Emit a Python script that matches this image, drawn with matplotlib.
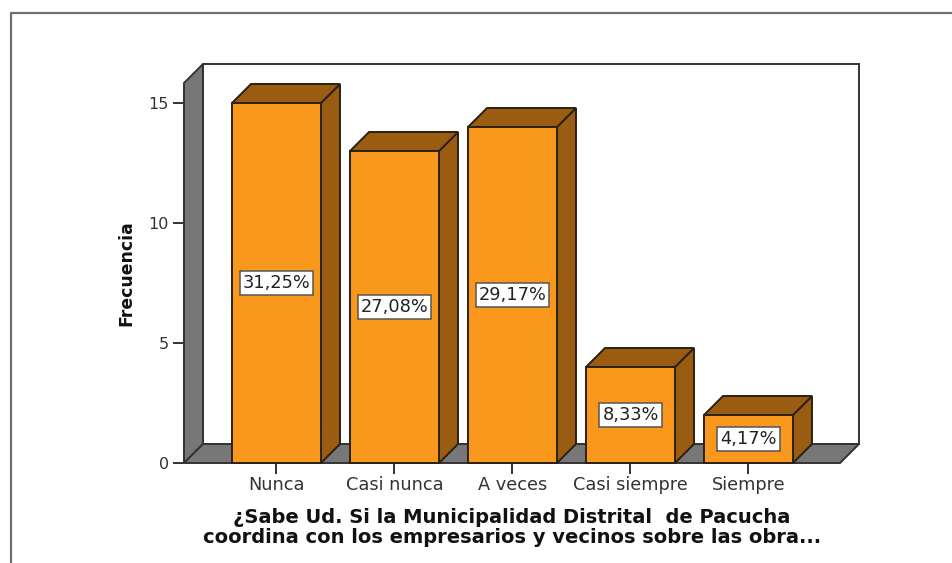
import matplotlib
matplotlib.use("Agg")
import matplotlib.pyplot as plt
from matplotlib.lines import Line2D
from matplotlib.patches import Polygon

plt.rcParams["font.family"] = ["DejaVu Sans"]

# data
categories = ["Nunca", "Casi nunca", "A veces", "Casi siempre", "Siempre"]
counts = [15, 13, 14, 4, 2]
percent_labels = ["31,25%", "27,08%", "29,17%", "8,33%", "4,17%"]
y_ticks = [0, 5, 10, 15]
x_title = "¿Sabe Ud. Si la Municipalidad Distrital  de Pacucha\ncoordina con los empresarios y vecinos sobre las obra..."
y_title = "Frecuencia"

W, H = 953, 563
fig = plt.figure(figsize=(W / 100, H / 100), dpi=100, facecolor="white")

# axes box in pixels, front plane of the 3d chart
left, right, top, bottom = 184, 840, 83, 463
ax = fig.add_axes([left / W, 1 - bottom / H, (right - left) / W, (bottom - top) / H])

px_x = 118  # pixels per category
px_y = 24  # pixels per count
ax.set_xlim(-92.5 / px_x, (right - left - 92.5) / px_x)
ax.set_ylim(0, (bottom - top) / px_y)
x0, x1 = ax.get_xlim()
y0, y1 = ax.get_ylim()

dx = 19 / px_x
dy = 19 / px_y
half = 44.5 / px_x

GREY = "#777777"
ORANGE = "#FA981E"
BROWN = "#995C10"
EDGE = "#2B2113"
LINE = "#333333"


def poly(pts, color, z, edge=LINE):
    ax.add_patch(Polygon(pts, closed=True, facecolor=color, edgecolor=edge,
                         linewidth=1.4, clip_on=False, zorder=z, joinstyle="miter"))


# back wall, side wall, floor
poly([(x0 + dx, y0 + dy), (x1 + dx, y0 + dy), (x1 + dx, y1 + dy), (x0 + dx, y1 + dy)], "white", 1)
poly([(x0, y0), (x0 + dx, y0 + dy), (x0 + dx, y1 + dy), (x0, y1)], GREY, 2)
poly([(x0, y0), (x1, y0), (x1 + dx, y0 + dy), (x0 + dx, y0 + dy)], GREY, 2)

# bars
for i, v in enumerate(counts):
    a, b = i - half, i + half
    poly([(b, 0), (b + dx, dy), (b + dx, v + dy), (b, v)], BROWN, 3 + i, EDGE)
    poly([(a, v), (b, v), (b + dx, v + dy), (a + dx, v + dy)], BROWN, 3 + i, EDGE)
    poly([(a, 0), (b, 0), (b, v), (a, v)], ORANGE, 3 + i, EDGE)
    ax.text(i, v / 2, percent_labels[i], ha="center", va="center", fontsize=12.8,
            color="#222222", zorder=10,
            bbox=dict(boxstyle="square,pad=0.17", facecolor="white", edgecolor="#555555", linewidth=1.1))

for s in ax.spines.values():
    s.set_visible(False)
ax.patch.set_visible(False)

ax.set_xticks(range(len(categories)))
ax.set_xticklabels(categories)
ax.set_yticks(y_ticks)
ax.tick_params(axis="both", length=8, width=1.4, color=LINE, labelcolor="#333333")
ax.tick_params(axis="x", pad=1.5, labelsize=12.8)
ax.tick_params(axis="y", pad=3, labelsize=11.5)

ax.set_xlabel(x_title, fontsize=14, fontweight="bold", color="#111111", labelpad=10, linespacing=1.05)
ax.set_ylabel(y_title, fontsize=12.4, fontweight="bold", color="#111111", labelpad=9)

# outer frame, only top and left show in the picture
frame_x = [11 / W, 11 / W, 1]
frame_y = [0, 1 - 13 / H, 1 - 13 / H]
fig.add_artist(Line2D(frame_x, frame_y, color="#707070", linewidth=1.6))

fig.savefig("out.png", dpi=100)
